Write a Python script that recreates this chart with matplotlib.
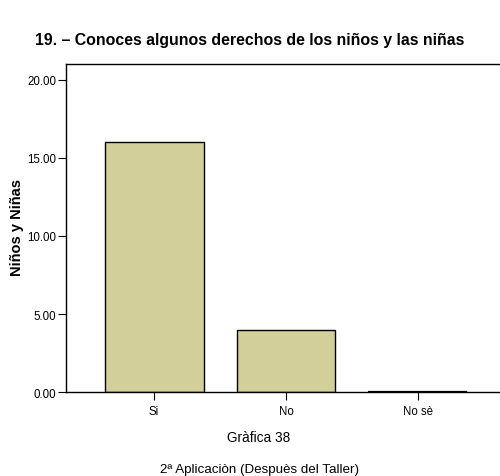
import numpy as np
import matplotlib
matplotlib.use('Agg')
from matplotlib import pyplot as plt

categories = ['Si', 'No', 'No sè']
counts = [16, 4, 0]
yticks = [0, 5, 10, 15, 20]

plt.rcParams['font.family'] = ['Liberation Sans', 'DejaVu Sans']

fig = plt.figure(figsize=(5, 4.77), dpi=100)
ax = fig.add_axes([0.132, 0.176, 0.88, 0.688])

x = np.arange(len(categories))
ax.bar(x, counts, width=0.75, color='#d3cf9a', edgecolor='black', linewidth=1.0)
# zero bar shows up as a flat line in the original
zero = np.array(counts) == 0
ax.hlines(np.array(counts)[zero], x[zero] - 0.375, x[zero] + 0.375, color='black', linewidth=1.6)

ax.set_xlim(-0.667, 2.667)
ax.set_ylim(0, 21.03)
ax.set_xticks(x)
ax.set_xticklabels(categories, fontsize=8.3)
ax.set_yticks(yticks)
ax.set_yticklabels(['%.2f' % v for v in yticks], fontsize=8.3)
ax.tick_params(length=5.5, width=0.8, pad=1.5)
ax.tick_params(axis='x', pad=4)
ax.spines['right'].set_visible(False)
for s in ['left', 'top', 'bottom']:
    ax.spines[s].set_linewidth(1.0)

fig.text(17 / 500, 1 - 228 / 477, 'Niños y Niñas', rotation=90, ha='center', va='center',
         fontsize=10.5, fontweight='bold')
fig.text(0.5, 1 - 41 / 477, '19. – Conoces algunos derechos de los niños y las niñas',
         ha='center', va='center', fontsize=11.4, fontweight='bold')
fig.text(0.518, 1 - 438 / 477, 'Gràfica 38', ha='center', va='center', fontsize=9.8)
fig.text(0.52, 1 - 470 / 477, '2ª Aplicaciòn (Despuès del Taller)', ha='center', va='center', fontsize=9.6)

fig.savefig('out.png', dpi=100)
